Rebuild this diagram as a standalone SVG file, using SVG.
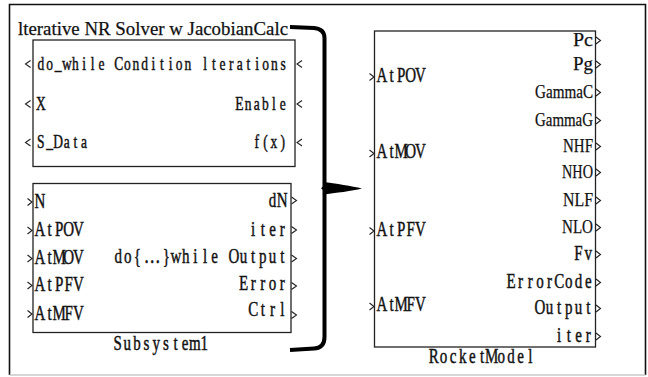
<svg xmlns="http://www.w3.org/2000/svg" width="648" height="377" viewBox="0 0 648 377">
  <style>
    .frame { fill: none; stroke: #111; stroke-width: 1.6; }
    .blk { fill: #fff; stroke: #222; stroke-width: 1.3; }
    .port { fill: none; stroke: #222; stroke-width: 1.1; stroke-linejoin: miter; }
    /* fixed-pitch labels: one glyph per cell, centred, squeezed horizontally by the parent group */
    .cell { font-family: "Liberation Serif", "Times New Roman", serif; fill: #111; stroke: #111; stroke-width: 0.45; text-anchor: middle; }
    .c18 { font-size: 18px; }
    .c20 { font-size: 20px; }
    .cjk { font-family: "Noto Sans CJK SC", sans-serif; }
    .serif { font-family: "Liberation Serif", "Times New Roman", serif; font-size: 19.5px; fill: #111; stroke: #111; stroke-width: 0.25; }
    .end { text-anchor: end; }
    .brace { fill: none; stroke: #000; stroke-width: 4; stroke-linecap: butt; }
  </style>

  <rect x="0" y="0" width="648" height="377" fill="#fff"/>

  <!-- outer frame -->
  <path class="frame" d="M9.5,375 V4.5 H645.5 V375"/>
  <line x1="9.5" y1="375" x2="645.5" y2="375" stroke="#c8c8c8" stroke-width="1.5"/>

  <!-- top-left mask block: Iterative NR Solver w JacobianCalc -->
  <g id="solver">
    <text class="serif" x="18" y="35" textLength="270" lengthAdjust="spacingAndGlyphs">lterative NR Solver w JacobianCalc</text>
    <rect class="blk" x="33" y="40" width="262" height="126.5"/>
    <g transform="scale(0.75,1)">
      <text class="cell c18" y="70" x="54.4 66.0 77.5 89.0 100.6 112.1 123.6 135.2 146.7 158.2 169.8 181.3 192.8 204.4 215.9 227.4 239.0 250.5 262.0 273.6 285.1 296.6 308.2 319.7 331.2 342.8 354.3 365.8 377.4">do_while Condition lterations</text>
      <text class="cell c18" y="110" x="54.4">X</text>
      <text class="cell c18" y="110" x="319.2 330.8 342.3 353.9 365.3 376.9">Enable</text>
      <text class="cell c18" y="148" x="54.4 66.0 77.5 89.0 100.6 112.1">S_Data</text>
      <text class="cell c18" y="148" x="342.3 353.9 365.3 376.9">f(x)</text>
    </g>
    <path class="port" d="M30.5,60.5 L25.5,64 L30.5,67.5 M30.5,100.5 L25.5,104 L30.5,107.5 M30.5,139 L25.5,142.5 L30.5,146"/>
    <path class="port" d="M302,60.5 L297,64 L302,67.5 M302,100.5 L297,104 L302,107.5 M302,139 L297,142.5 L302,146"/>
  </g>

  <!-- bottom-left block: Subsystem1 -->
  <g id="subsystem1">
    <rect class="blk" x="33" y="183.5" width="258" height="149"/>
    <g transform="scale(0.75,1)">
      <text class="cell c20" y="208" x="53.1">N</text>
      <text class="cell c20" y="236.5" x="53.1 66.0 78.8 91.7 104.6">AtPOV</text>
      <text class="cell c20" y="264.5" x="53.1 66.0 78.8 91.7 104.6">AtMOV</text>
      <text class="cell c20" y="291.5" x="53.1 66.0 78.8 91.7 104.6">AtPFV</text>
      <text class="cell c20" y="320" x="53.1 66.0 78.8 91.7 104.6">AtMFV</text>
      <text class="cell c20" y="207" x="363.3 376.3">dN</text>
      <text class="cell c20" y="236" x="337.6 350.5 363.3 376.3">iter</text>
      <text class="cell c20" y="263" x="157.5 170.4 183.2 202.5 221.9 234.7 247.6 260.4 273.3 286.1 299.1 311.9 324.8 337.6 350.5 363.3 376.3">do{<tspan class="cjk">…</tspan>}while Output</text>
      <text class="cell c20" y="290" x="324.8 337.6 350.5 363.3 376.3">Error</text>
      <text class="cell c20" y="316.5" x="337.6 350.5 363.3 376.3">Ctrl</text>
      <text class="cell c20" y="350" x="156.8 169.6 182.5 195.3 208.3 221.1 234.0 246.8 259.7 272.5">Subsystem1</text>
    </g>
    <path class="port" d="M27.5,198.5 L32,202 L27.5,205.5 M27.5,227 L32,230.5 L27.5,234 M27.5,255 L32,258.5 L27.5,262 M27.5,282 L32,285.5 L27.5,289 M27.5,310.5 L32,314 L27.5,317.5"/>
    <path class="port" d="M291.5,197 L296.5,200.5 L291.5,204 M291.5,226.5 L296.5,230 L291.5,233.5 M291.5,255 L296.5,258.5 L291.5,262 M291.5,282.5 L296.5,286 L291.5,289.5 M291.5,311.5 L296.5,315 L291.5,318.5"/>
  </g>

  <!-- right block: RocketModel -->
  <g id="rocketmodel">
    <rect class="blk" x="374.5" y="31" width="221" height="316"/>
    <g transform="scale(0.75,1)">
      <text class="cell c20" y="82" x="509.1 522.0 534.8 547.7 560.5">AtPOV</text>
      <text class="cell c20" y="158.5" x="509.1 522.0 534.8 547.7 560.5">AtMOV</text>
      <text class="cell c20" y="236" x="509.1 522.0 534.8 547.7 560.5">AtPFV</text>
      <text class="cell c20" y="311.5" x="509.1 522.0 534.8 547.7 560.5">AtMFV</text>
      <text class="cell c20" y="260" x="771.3 784.3">Fv</text>
      <text class="cell c20" y="288" x="681.3 694.1 707.1 719.9 732.8 745.6 758.5 771.3 784.3">ErrorCode</text>
      <text class="cell c20" y="314" x="719.9 732.8 745.6 758.5 771.3 784.3">Output</text>
      <text class="cell c20" y="342" x="745.6 758.5 771.3 784.3">iter</text>
      <text class="cell c20" y="363" x="578.4 591.2 604.1 616.9 629.9 642.7 655.6 668.4 681.3 694.1 707.1">RocketModel</text>
    </g>
    <text class="serif end" x="593" y="46" textLength="20" lengthAdjust="spacingAndGlyphs">Pc</text>
    <text class="serif end" x="593" y="70" textLength="20" lengthAdjust="spacingAndGlyphs">Pg</text>
    <text class="serif end" x="593" y="98" textLength="58" lengthAdjust="spacingAndGlyphs">GammaC</text>
    <text class="serif end" x="593" y="126" textLength="58" lengthAdjust="spacingAndGlyphs">GammaG</text>
    <text class="serif end" x="593" y="152" textLength="30" lengthAdjust="spacingAndGlyphs">NHF</text>
    <text class="serif end" x="593" y="178" textLength="31" lengthAdjust="spacingAndGlyphs">NHO</text>
    <text class="serif end" x="593" y="206" textLength="30" lengthAdjust="spacingAndGlyphs">NLF</text>
    <text class="serif end" x="593" y="233" textLength="31" lengthAdjust="spacingAndGlyphs">NLO</text>
    <path class="port" d="M369.5,73.5 L374,77 L369.5,80.5 M369.5,150 L374,153.5 L369.5,157 M369.5,227.5 L374,231 L369.5,234.5 M369.5,303 L374,306.5 L369.5,310"/>
    <path class="port" d="M596,37 L600.5,40.5 L596,44 M596,61 L600.5,64.5 L596,68 M596,89 L600.5,92.5 L596,96 M596,117 L600.5,120.5 L596,124 M596,143 L600.5,146.5 L596,150 M596,169 L600.5,172.5 L596,176 M596,197 L600.5,200.5 L596,204 M596,224 L600.5,227.5 L596,231 M596,251 L600.5,254.5 L596,258 M596,279 L600.5,282.5 L596,286 M596,305 L600.5,308.5 L596,312 M596,333 L600.5,336.5 L596,340"/>
  </g>

  <!-- connector: curly brace grouping the two left blocks into RocketModel -->
  <g id="connectors">
    <path class="brace" d="M290,27 L314,28 Q324.5,29 324.5,38 V337 Q324.5,348 314,348.5 L290,350"/>
    <path d="M322.5,182 C336,183.5 352,186 362,188.5 C352,191 336,193 322.5,194.5 C324,192.5 324,190.5 321,188.3 C324,186.5 324,184 322.5,182 Z" fill="#000"/>
  </g>
</svg>
